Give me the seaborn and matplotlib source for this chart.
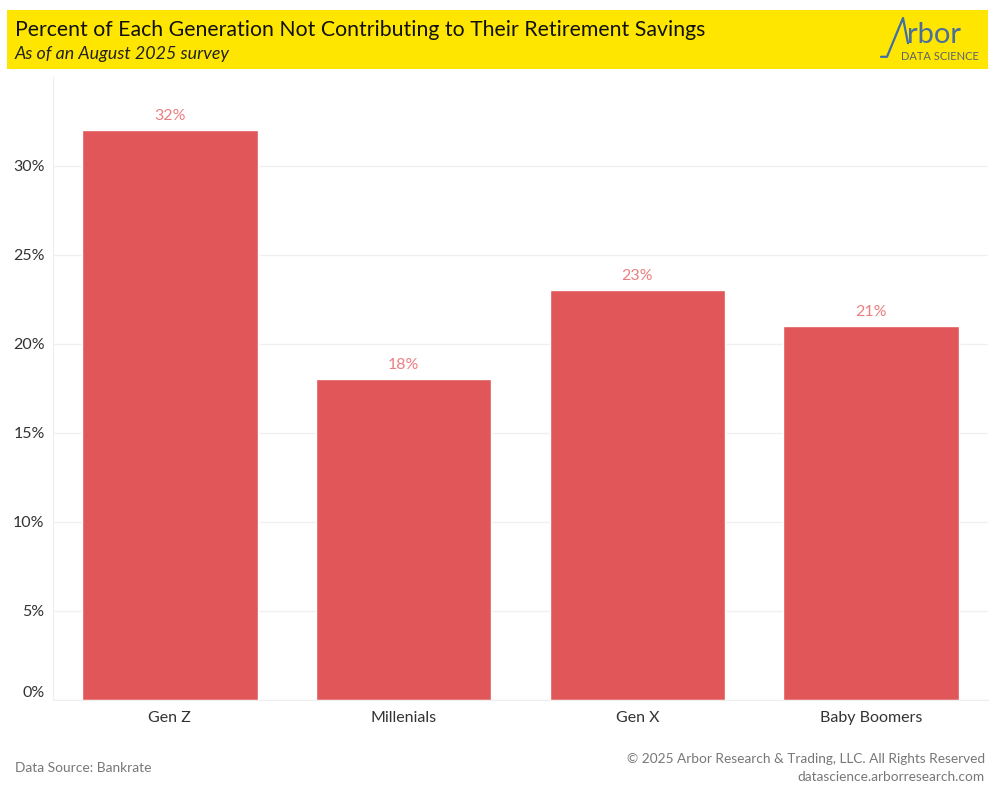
import matplotlib
matplotlib.use('Agg')
import matplotlib.pyplot as plt
import seaborn as sns
import pandas as pd
from matplotlib.patches import Rectangle
from matplotlib.lines import Line2D

# data
generations = ['Gen Z', 'Millenials', 'Gen X', 'Baby Boomers']
pct_not_contributing = [32, 18, 23, 21]
y_ticks = [0, 5, 10, 15, 20, 25, 30]

df = pd.DataFrame({'generation': generations, 'pct': pct_not_contributing})

sns.set_style('white')
plt.rcParams['font.family'] = ['Lato', 'DejaVu Sans']

fig = plt.figure(figsize=(10, 8), dpi=100)
ax = fig.add_axes([0.053, 0.125, 0.935, 0.779])

sns.barplot(df, x='generation', y='pct', color='#E15759', saturation=1,
            width=0.75, ax=ax)

for i, v in enumerate(pct_not_contributing):
    ax.text(i, v + 0.4, f'{v}%', ha='center', va='bottom', fontsize=11.5,
            color='#EB7E80')

ax.set_ylim(0, 35)
ax.set_xlim(-0.5, len(generations) - 0.5)
ax.set_yticks(y_ticks)
ax.set_yticklabels([f'{t}%' for t in y_ticks])
ax.get_yticklabels()[0].set_va('bottom')
ax.set_xlabel('')
ax.set_ylabel('')
ax.tick_params(axis='y', length=0, labelsize=11.5, labelcolor='#333333', pad=6)
ax.tick_params(axis='x', length=0, labelsize=11.5, labelcolor='#333333', pad=8)
ax.set_xticks([i + 0.5 for i in range(len(generations) - 1)], minor=True)
ax.tick_params(axis='x', which='minor', length=5, color='#e6e6e6', width=1)
ax.grid(axis='y', color='#f0f0f0', linewidth=1)
ax.set_axisbelow(True)
for s in ['top', 'right']:
    ax.spines[s].set_visible(False)
ax.spines['left'].set_color('#eeeeee')
ax.spines['bottom'].set_color('#eeeeee')

# header banner
fig.patches.append(Rectangle((0.007, 0.914), 0.981, 0.074, transform=fig.transFigure,
                             facecolor='#FFE600', edgecolor='none', zorder=0))
fig.text(0.015, 0.962, 'Percent of Each Generation Not Contributing to Their Retirement Savings',
         fontsize=15.3, color='#111111', va='center', ha='left')
fig.text(0.015, 0.932, 'As of an August 2025 survey', fontsize=12.9, style='italic',
         color='#222222', va='center', ha='left')

# logo
logo_col = '#3F6FA6'
fig.lines.append(Line2D([0.881, 0.887, 0.903, 0.908], [0.929, 0.929, 0.9775, 0.946],
                        transform=fig.transFigure, color=logo_col, linewidth=1.6))
fig.text(0.907, 0.946, 'rbor', fontsize=21, color='#4A6F9A', va='baseline', ha='left')
fig.text(0.979, 0.930, 'DATA SCIENCE', fontsize=8, color='#5B6470', va='center', ha='right')

# footer
fig.text(0.015, 0.04, 'Data Source: Bankrate', fontsize=9.9, color='#777777',
         va='center', ha='left')
fig.text(0.985, 0.051, '\u00a9 2025 Arbor Research & Trading, LLC. All Rights Reserved',
         fontsize=9.8, color='#777777', va='center', ha='right')
fig.text(0.985, 0.029, 'datascience.arborresearch.com', fontsize=9.8, color='#777777',
         va='center', ha='right')

fig.savefig('out.png', dpi=100)
